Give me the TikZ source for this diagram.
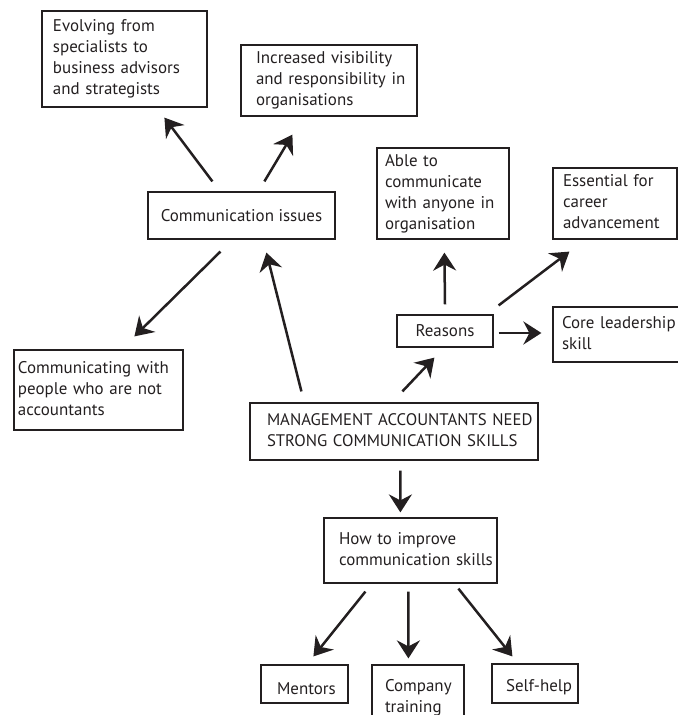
\documentclass[tikz,border=0pt]{standalone}
\usepackage{fontspec}
\setmainfont{PT Sans}
\usetikzlibrary{arrows.meta}
\definecolor{ink}{HTML}{231F20}
% left-aligned block of lines that never wraps
\newcommand\boxtext[1]{\noindent\begin{tabular}{@{}l@{}}#1\end{tabular}}
\begin{document}
\begin{tikzpicture}[x=1bp,y=-1bp,
  box/.style={draw=ink, line width=1.2bp, inner sep=0pt, text=ink,
    font=\fontsize{17}{21}\selectfont, align=left},
  link/.style={draw=ink, line width=2.5bp,
    -{Stealth[length=18bp,width=23bp,inset=6bp]}},
]
\useasboundingbox (0,0) rectangle (678,715);
\clip (0,0) rectangle (678,715);

% boxes
\node[box, minimum width=165bp, minimum height=96bp, text width=143bp] (evolve) at (124.5,59)
  {\boxtext{Evolving from\\specialists to\\business advisors\\and strategists}};
\node[box, minimum width=176bp, minimum height=71bp, text width=146bp] (visib) at (329,80.5)
  {\boxtext{Increased visibility\\and responsibility in\\organisations}};
\node[box, minimum width=187bp, minimum height=47bp, align=center] (comm) at (241.5,215.5)
  {Communication issues};
\node[box, minimum width=169bp, minimum height=80bp, text width=161bp] (notacc) at (98.5,390)
  {\boxtext{Communicating with\\people who are not\\accountants}};
\node[box, minimum width=132bp, minimum height=91bp, text width=116bp] (able) at (443,193.5)
  {\boxtext{Able to\\communicate\\with anyone in\\organisation}};
\node[box, minimum width=124bp, minimum height=71bp, text width=104bp] (essential) at (615,203.5)
  {\boxtext{Essential for\\career\\advancement}};
\node[box, minimum width=96bp, minimum height=32bp, align=center] (reasons) at (445,331)
  {Reasons};
\node[box, minimum width=135bp, minimum height=55bp, text width=117bp] (core) at (620.5,334.5)
  {\boxtext{Core leadership\\skill}};
\node[box, minimum width=288bp, minimum height=57bp, text width=254bp,
  font=\fontsize{16.8}{21}\selectfont] (mgmt) at (394,431.5)
  {\boxtext{MANAGEMENT ACCOUNTANTS NEED\\STRONG COMMUNICATION SKILLS}};
\node[box, minimum width=173bp, minimum height=65bp, text width=143bp] (how) at (410.5,550.5)
  {\boxtext{How to improve\\communication skills}};
\node[box, minimum width=87bp, minimum height=38bp, text width=55bp,
  text height=22bp, text depth=0pt] (mentors) at (304.5,684)
  {\boxtext{Mentors}};
\node[box, minimum width=92bp, minimum height=65bp, text width=66bp] (company) at (418,697.5)
  {\boxtext{Company\\training}};
\node[box, minimum width=86bp, minimum height=39bp, text width=58bp,
  text height=21bp, text depth=4pt] (selfhelp) at (535,683.5)
  {\boxtext{Self-help}};

% connectors
\draw[link] ([shift={(65,-10)}]comm.north west) -- ([shift={(123,10)}]evolve.south west);
\draw[link] ([shift={(117,-10)}]comm.north west) -- ([shift={(52,18)}]visib.south west);
\draw[link] ([shift={(73,12)}]comm.south west) -- ([shift={(121,-13)}]notacc.north west);
\draw[link] ([shift={(52,-11)}]mgmt.north west) -- ([shift={(119,13)}]comm.south west);
\draw[link] ([shift={(153,-11)}]mgmt.north west) -- ([shift={(38,10)}]reasons.south west);
\draw[link] ([shift={(0,-10)}]reasons.north) -- ([shift={(68,13)}]able.south west);
\draw[link] ([shift={(5,-9)}]reasons.north east) -- ([shift={(17,12)}]essential.south west);
\draw[link] ([shift={(5,2)}]reasons.east) -- ([shift={(-11,-1.5)}]core.west);
\draw[link] ([shift={(151,10)}]mgmt.south west) -- ([shift={(77,-5)}]how.north west);
\draw[link] ([shift={(42,8)}]how.south west) -- ([shift={(53,-8)}]mentors.north west);
\draw[link] ([shift={(85,8)}]how.south west) -- ([shift={(37,-6)}]company.north west);
\draw[link] ([shift={(135,5)}]how.south west) -- ([shift={(21,-7)}]selfhelp.north west);
\end{tikzpicture}
\end{document}
